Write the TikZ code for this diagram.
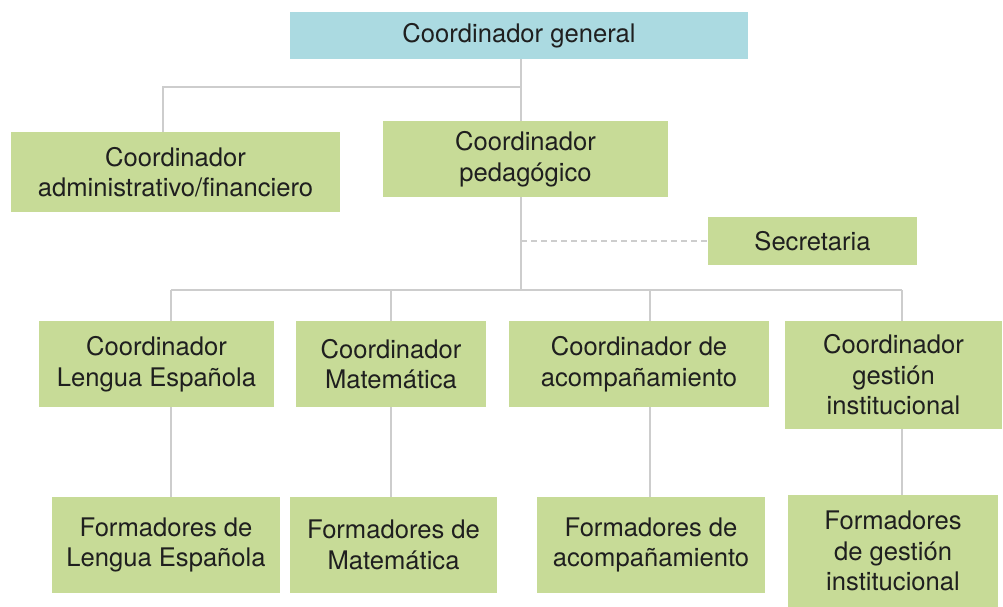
\documentclass[tikz,border=0pt]{standalone}
\usepackage{fontspec}
\setmainfont{TeX Gyre Heros}
\usetikzlibrary{positioning}
\definecolor{boxgreen}{HTML}{C7DB97}
\definecolor{boxblue}{HTML}{ABDAE1}
\definecolor{linegray}{HTML}{CDCDCD}

\begin{document}
\begin{tikzpicture} [x=1pt, y=-1pt,
        every node/.style = {shape=rectangle, fill=boxgreen, align=center, inner sep=0pt,
            text=black!88, font=\fontsize{25.6}{30.5}\selectfont},
        link/.style = {draw=linegray, line width=1.5pt},
        dashlink/.style = {draw=linegray, line width=1.3pt, dash pattern=on 6pt off 4pt}]
        \useasboundingbox (0,0) rectangle (1003,607);

        % top levels
        \node [fill=boxblue, minimum width=458, minimum height=47] (gen) at (519,35.5) {Coordinador general};
        \node [minimum width=329, minimum height=80] (adm) at (175.5,172) {Coordinador\\administrativo/financiero};
        \node [minimum width=285, minimum height=76] (ped) at (525.5,159) {Coordinador\\pedagógico};
        \node [minimum width=209, minimum height=48] (sec) at (812.5,241) {Secretaria};

        % coordinadores
        \node [minimum width=235, minimum height=86] (cle) at (156.5,364) {Coordinador\\Lengua Española};
        \node [minimum width=190, minimum height=86] (cma) at (391,364) {Coordinador\\Matemática};
        \node [minimum width=260, minimum height=86] (cac) at (639,364) {Coordinador de\\acompañamiento};
        \node [minimum width=217, minimum height=108] (cgi) at (893.5,375) {Coordinador\\gestión\\institucional};

        % formadores
        \node [minimum width=228, minimum height=96] (fle) at (166,545) {Formadores de\\Lengua Española};
        \node [minimum width=207, minimum height=96] (fma) at (393.5,545) {Formadores de\\Matemática};
        \node [minimum width=228, minimum height=96] (fac) at (651,545) {Formadores de\\acompañamiento};
        \node [minimum width=210, minimum height=112] (fgi) at (893,551) {Formadores\\de gestión\\institucional};

        \coordinate (top) at (521,87);
        \coordinate (topl) at (163,87);
        \coordinate (bus) at (521,290);
        \coordinate (b1) at (171,290);
        \coordinate (b2) at (391,290);
        \coordinate (b3) at (650,290);
        \coordinate (b4) at (902,290);

        \draw [link] (gen.south -| top) -- (top |- ped.north);
        \draw [link] (top) -- (topl) -- (topl |- adm.north);
        \draw [link] (ped.south -| bus) -- (bus);
        \draw [dashlink] (sec.west -| bus) -- (sec.west);
        \draw [link] (b1) -- (b4);
        \foreach \b/\c/\f in {b1/cle/fle, b2/cma/fma, b3/cac/fac, b4/cgi/fgi} {
            \draw [link] (\b) -- (\b |- \c.north);
            \draw [link] (\c.south -| \b) -- (\b |- \f.north);
        }
    \end{tikzpicture}
\end{document}
